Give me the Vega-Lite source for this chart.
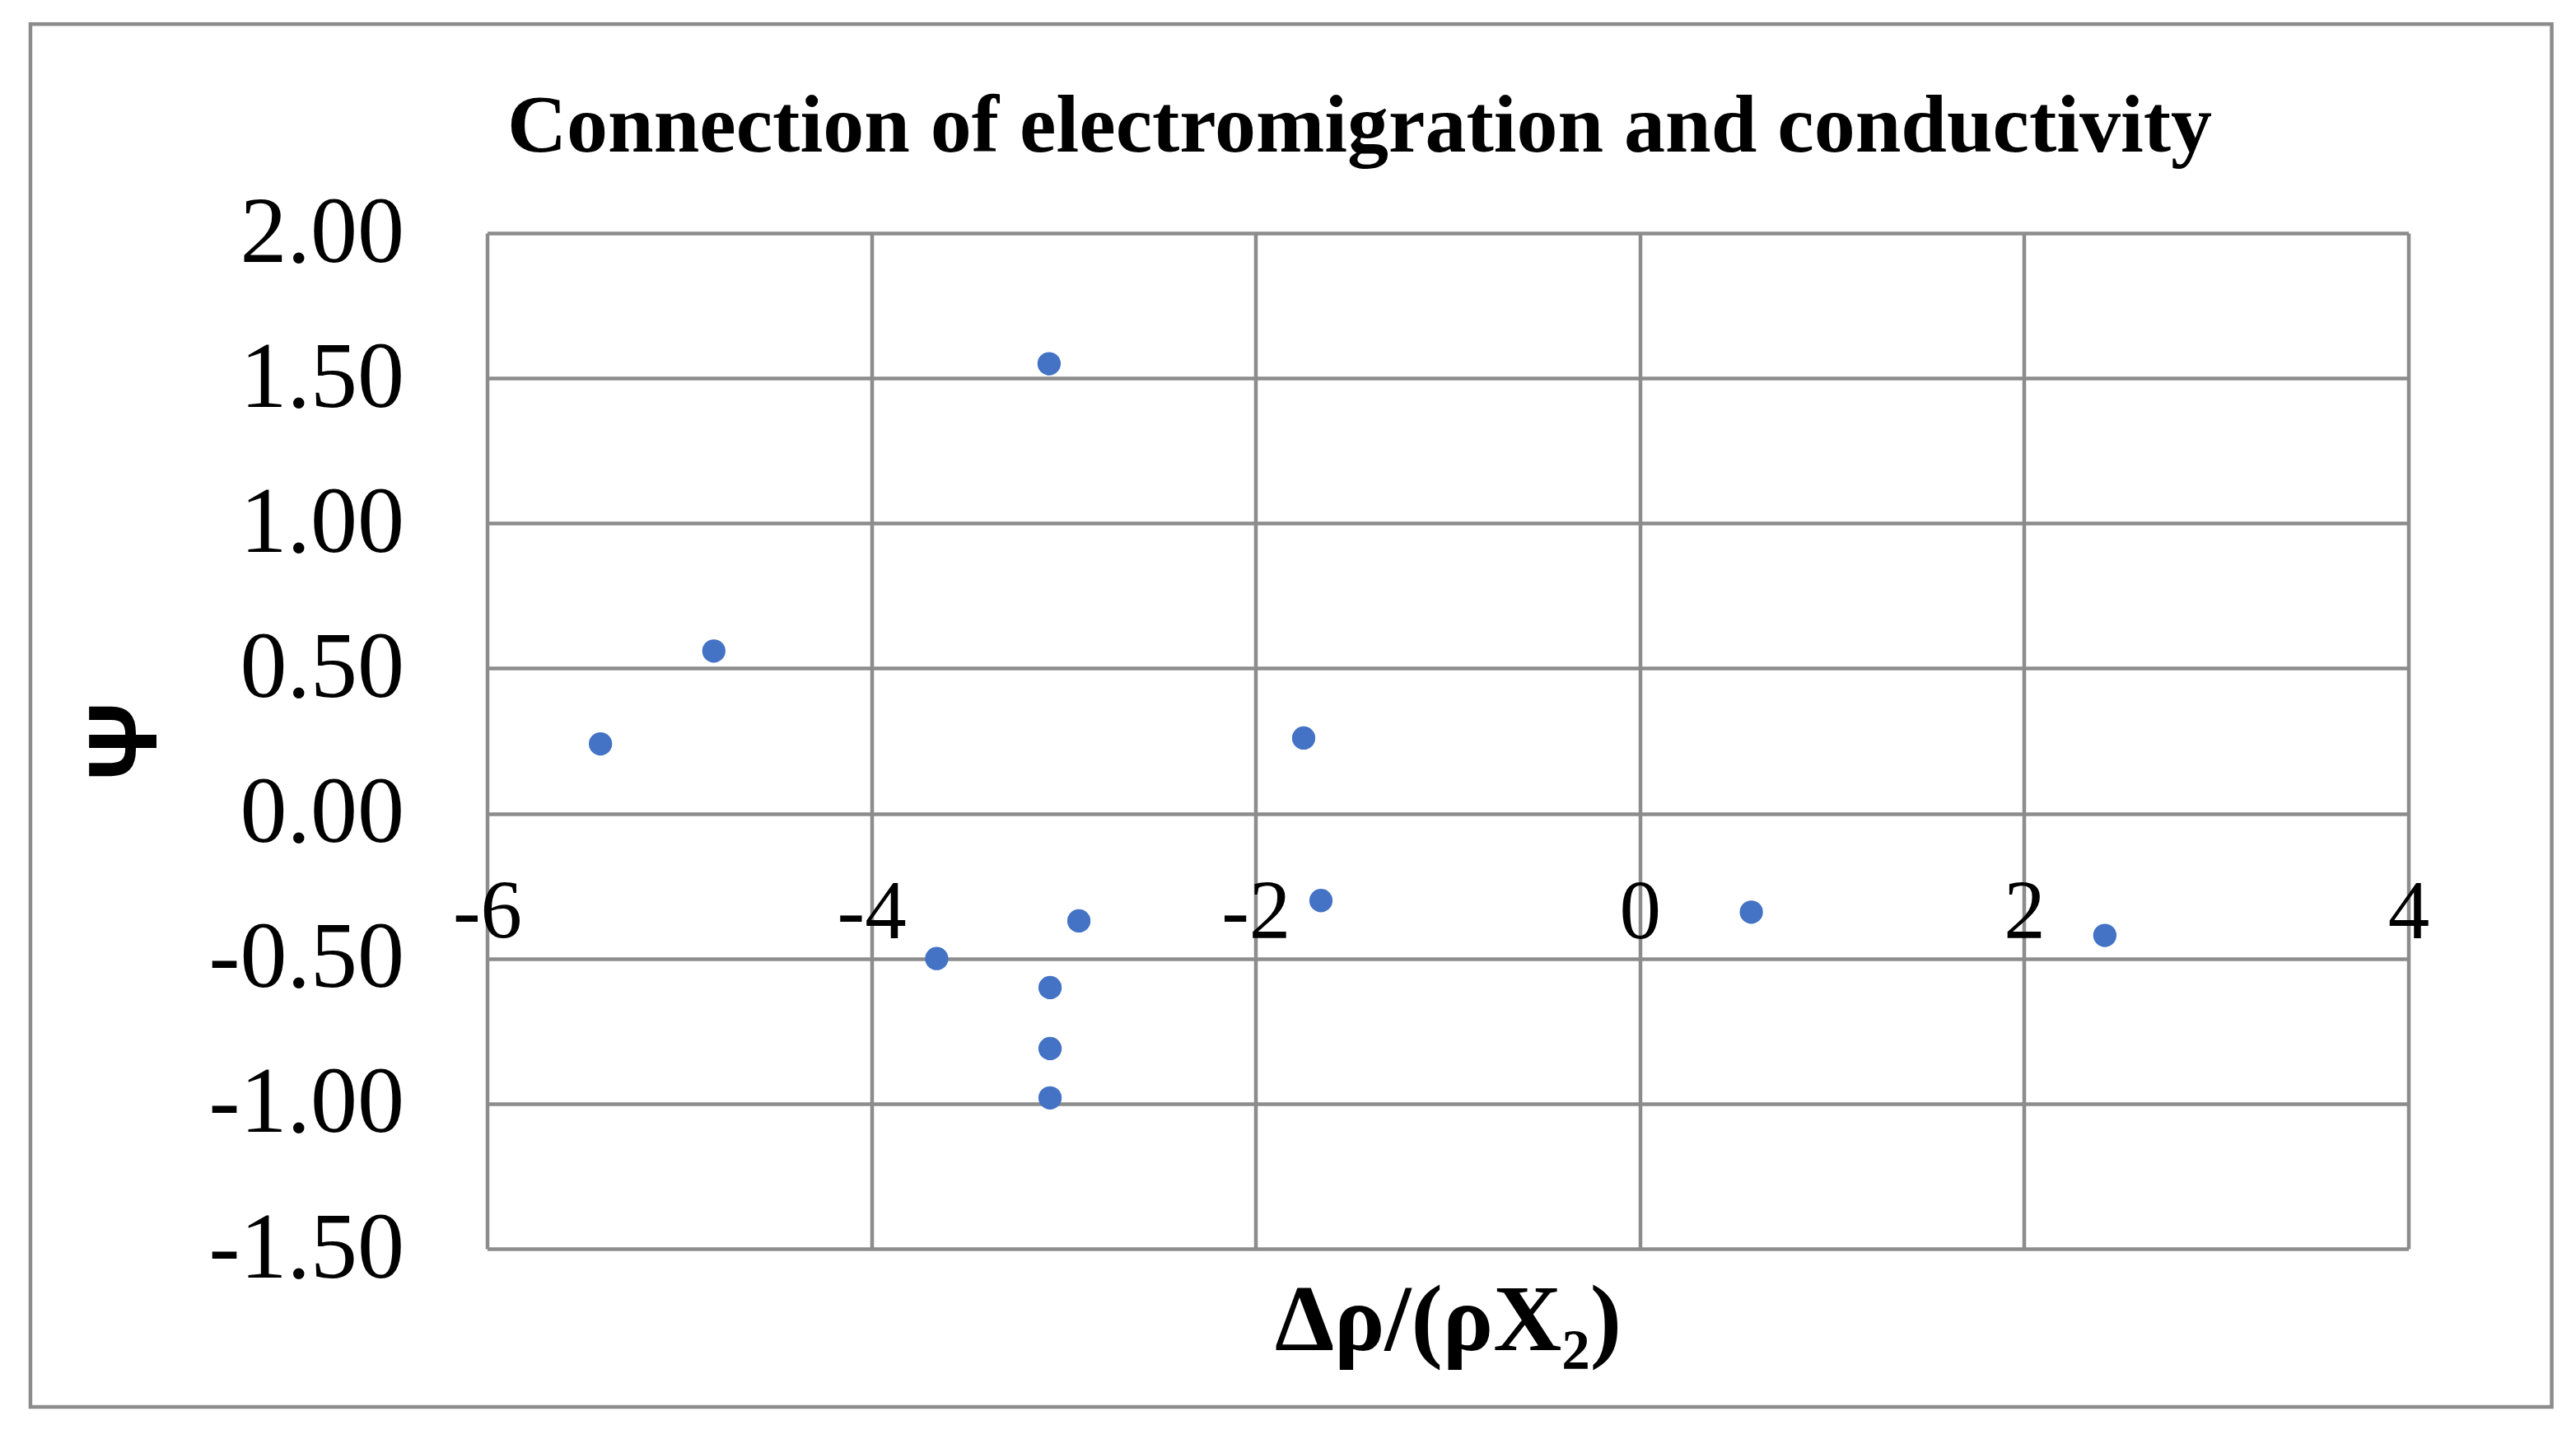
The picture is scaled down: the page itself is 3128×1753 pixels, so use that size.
{
  "$schema": "https://vega.github.io/schema/vega-lite/v6.json",
  "width": 2333,
  "height": 1233,
  "autosize": {"type": "none"},
  "padding": {"left": 591.5, "top": 283, "right": 203.5, "bottom": 237},
  "background": "white",
  "config": {"view": {"stroke": null}, "font": "Liberation Serif"},
  "title": {
    "text": "Connection of electromigration and conductivity",
    "font": "Liberation Serif",
    "fontSize": 100,
    "fontWeight": "bold",
    "color": "black",
    "anchor": "middle",
    "frame": "group",
    "dx": -107,
    "baseline": "alphabetic",
    "offset": -257
  },
  "layer": [
    {
      "data": {
        "values": [
          {"x": -5.41, "psi": 0.24},
          {"x": -4.82, "psi": 0.56},
          {"x": -3.075, "psi": 1.55},
          {"x": -3.66, "psi": -0.5},
          {"x": -3.07, "psi": -0.6},
          {"x": -3.07, "psi": -0.81},
          {"x": -3.07, "psi": -0.98},
          {"x": -2.92, "psi": -0.37},
          {"x": -1.75, "psi": 0.26},
          {"x": -1.66, "psi": -0.3},
          {"x": 0.58, "psi": -0.34},
          {"x": 2.42, "psi": -0.42}
        ]
      },
      "mark": {"type": "circle", "size": 800, "color": "#4472C4", "opacity": 1},
      "encoding": {
        "x": {
          "field": "x",
          "type": "quantitative",
          "scale": {"domain": [-6, 4], "nice": false, "zero": false},
          "axis": {
            "values": [-6, -4, -2, 0, 2, 4],
            "offset": -528,
            "domain": false,
            "ticks": false,
            "grid": true,
            "gridColor": "#8c8c8c",
            "gridWidth": 4.5,
            "gridOpacity": 1,
            "labelFont": "Liberation Serif",
            "labelFontSize": 101,
            "labelColor": "black",
            "labelPadding": 70,
            "labelBaseline": "top",
            "labelFlush": false,
            "labelOverlap": false,
            "labelBound": false,
            "labelLimit": 0,
            "labelExpr": "datum.value < 0 ? '-' + format(-datum.value, 'd') : format(datum.value, 'd')",
            "title": "Δρ/(ρX₂)",
            "titleFont": "Liberation Serif",
            "titleFontSize": 115,
            "titleFontWeight": "bold",
            "titleColor": "black",
            "titleBaseline": "alphabetic",
            "titleLimit": 0,
            "titleY": 650
          }
        },
        "y": {
          "field": "psi",
          "type": "quantitative",
          "scale": {"domain": [-1.5, 2], "nice": false, "zero": false},
          "axis": {
            "values": [-1.5, -1, -0.5, 0, 0.5, 1, 1.5, 2],
            "domain": false,
            "ticks": false,
            "grid": true,
            "gridColor": "#8c8c8c",
            "gridWidth": 4.5,
            "gridOpacity": 1,
            "labelFont": "Liberation Serif",
            "labelFontSize": 114,
            "labelColor": "black",
            "labelPadding": 101,
            "labelBaseline": "middle",
            "labelOverlap": false,
            "labelBound": false,
            "labelFlush": false,
            "labelLimit": 0,
            "labelExpr": "datum.value < 0 ? '-' + format(-datum.value, '.2f') : format(datum.value, '.2f')",
            "title": "Ψ",
            "titleFont": "Liberation Sans",
            "titleFontSize": 118,
            "titleFontWeight": "bold",
            "titleColor": "black",
            "titleAngle": 270,
            "titleBaseline": "alphabetic",
            "titleX": -402.5,
            "titleY": 616.5
          }
        }
      }
    },
    {
      "data": {"values": [{"frame": "chart"}]},
      "mark": {"type": "rect", "fill": null, "stroke": "#8c8c8c", "strokeWidth": 4.5, "clip": false},
      "encoding": {
        "x": {"datum": -8.377, "type": "quantitative", "title": "Δρ/(ρX₂)"},
        "x2": {"datum": 4.746},
        "y": {"datum": 2.72, "type": "quantitative", "title": "Ψ"},
        "y2": {"datum": -2.045}
      }
    }
  ]
}
